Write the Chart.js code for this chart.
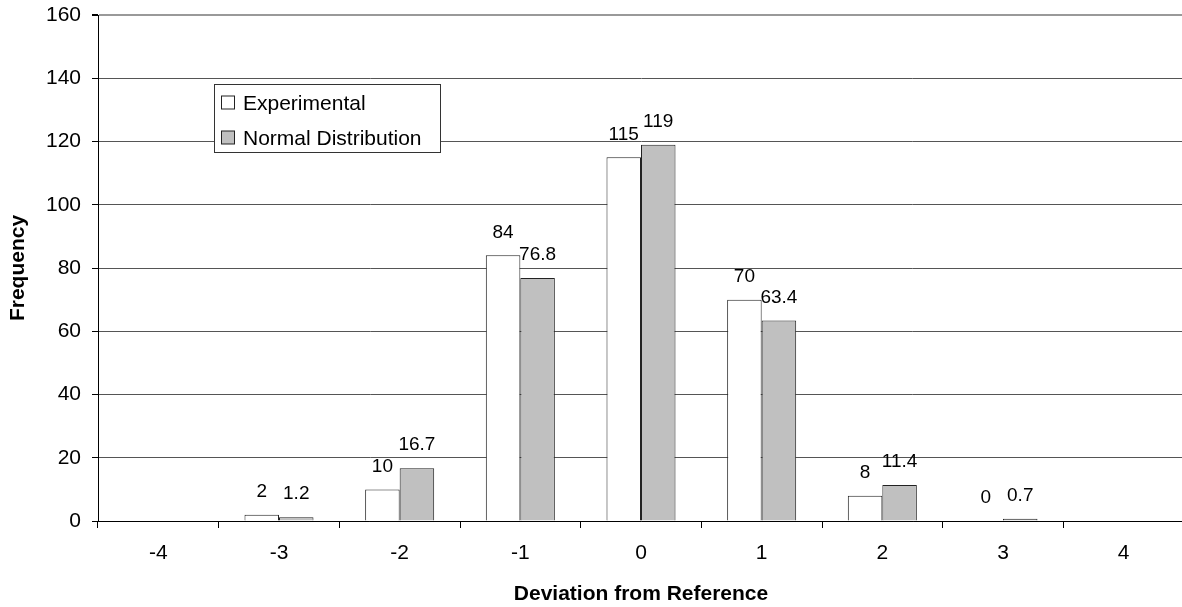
<!DOCTYPE html>
<html>
<head>
<meta charset="utf-8">
<script src="https://cdn.jsdelivr.net/npm/chart.js@4/dist/chart.umd.min.js"></script>
<style>
  html, body { margin: 0; padding: 0; background: #fff; overflow: hidden; }
  #wrap { width: 1182px; height: 607px; overflow: hidden; }
  canvas { display: block; }
</style>
</head>
<body>
<div id="wrap"><canvas id="c" width="1190" height="607"></canvas></div>
<script>
const categories = ['-4', '-3', '-2', '-1', '0', '1', '2', '3', '4'];
const experimental = [null, 2, 10, 84, 115, 70, 8, 0, null];
const normalDist = [null, 1.2, 16.7, 76.8, 119, 63.4, 11.4, 0.7, null];
const seriesNames = ['Experimental', 'Normal Distribution'];
const yTicks = [0, 20, 40, 60, 80, 100, 120, 140, 160];

const FONT = "'Liberation Sans', Arial, sans-serif";
const colors = { exp: '#ffffff', norm: '#c0c0c0', edge: '#222222' };

const valueLabels = {
  id: 'valueLabels',
  afterDatasetsDraw(chart) {
    const ctx = chart.ctx;
    ctx.save();
    ctx.font = '19px ' + FONT;
    ctx.fillStyle = '#000';
    ctx.textAlign = 'center';
    ctx.textBaseline = 'middle';
    chart.data.datasets.forEach((ds, i) => {
      const meta = chart.getDatasetMeta(i);
      meta.data.forEach((el, j) => {
        const v = ds.data[j];
        if (v === null || v === undefined) return;
        ctx.fillText(String(v), el.x, el.y - 23);
      });
    });
    ctx.restore();
  }
};

const boxLegend = {
  id: 'boxLegend',
  afterDraw(chart) {
    const ctx = chart.ctx;
    ctx.save();
    const x = 214.5, y = 84.5, w = 226, h = 68;
    ctx.fillStyle = '#fff';
    ctx.fillRect(x, y, w, h);
    ctx.strokeStyle = '#333';
    ctx.lineWidth = 1;
    ctx.strokeRect(x, y, w, h);
    const fills = [colors.exp, colors.norm];
    const rows = [103, 138];
    ctx.font = '21px ' + FONT;
    ctx.textBaseline = 'middle';
    ctx.textAlign = 'left';
    seriesNames.forEach((name, i) => {
      ctx.fillStyle = fills[i];
      ctx.fillRect(221.5, rows[i] - 7, 13, 13);
      ctx.strokeStyle = '#222';
      ctx.strokeRect(221.5, rows[i] - 7, 13, 13);
      ctx.fillStyle = '#000';
      ctx.fillText(name, 243, rows[i] + 1);
    });
    ctx.restore();
  }
};

new Chart(document.getElementById('c'), {
  type: 'bar',
  data: {
    labels: categories,
    datasets: [
      { label: seriesNames[0], data: experimental, backgroundColor: colors.exp, borderColor: colors.edge, borderWidth: 1 },
      { label: seriesNames[1], data: normalDist, backgroundColor: colors.norm, borderColor: colors.edge, borderWidth: 1 }
    ]
  },
  options: {
    responsive: false,
    animation: false,
    devicePixelRatio: 1,
    layout: { padding: { top: 15, right: 6, bottom: 0, left: 0 } },
    datasets: { bar: { barPercentage: 1.0, categoryPercentage: 0.572 } },
    plugins: { legend: { display: false }, tooltip: { enabled: false } },
    scales: {
      x: {
        afterFit(scale) { scale.height = 86; scale.paddingLeft = 0; scale.paddingRight = 0; },
        grid: { display: true, drawOnChartArea: false, drawTicks: true, tickLength: 7, tickColor: '#000', offset: true },
        border: { display: true, color: '#000', width: 1 },
        ticks: { color: '#000', font: { family: FONT, size: 21 }, padding: 13, maxRotation: 0 },
        title: { display: true, text: 'Deviation from Reference', color: '#000', font: { family: FONT, size: 21, weight: 'bold' }, padding: { top: 2, bottom: 0 } }
      },
      y: {
        min: 0, max: 160,
        afterFit(scale) { scale.width = 98; scale.paddingTop = 0; scale.paddingBottom = 0; },
        afterBuildTicks(scale) { scale.ticks = yTicks.map(v => ({ value: v })); },
        grid: {
          drawTicks: true, tickLength: 6, tickColor: '#000',
          color: (c) => c.tick && c.tick.value === 160 ? '#999' : '#555',
          lineWidth: (c) => c.tick && c.tick.value === 160 ? 2 : 1
        },
        border: { display: true, color: '#000', width: 1 },
        ticks: { color: '#000', font: { family: FONT, size: 21 }, padding: 11 },
        title: { display: true, text: 'Frequency', color: '#000', font: { family: FONT, size: 21, weight: 'bold' }, padding: { top: 6, bottom: 0 } }
      }
    }
  },
  plugins: [valueLabels, boxLegend]
});
</script>
</body>
</html>
